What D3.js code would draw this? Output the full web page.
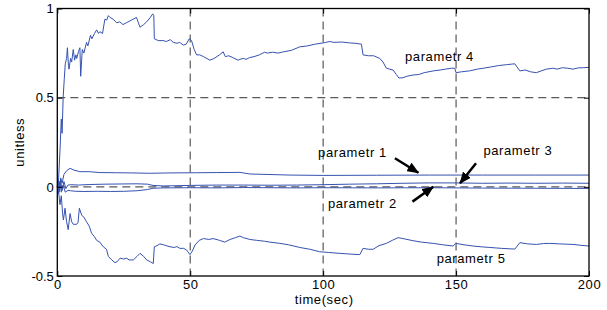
<!DOCTYPE html>
<html><head><meta charset="utf-8">
<script src="https://cdn.jsdelivr.net/npm/d3@7"></script>
<style>
html,body{margin:0;padding:0;background:#fff;}
svg{display:block;font-family:"Liberation Sans",Arial,Helvetica,sans-serif;}
</style></head>
<body><svg id="c" width="607" height="310"></svg>
<script>
// ---- data ----
const xTicks = [0, 50, 100, 150, 200];
const xTickLabels = ["0", "50", "100", "150", "200"];
const yTicks = [-0.5, 0, 0.5, 1];
const yTickLabels = ["-0.5", "0", "0.5", "1"];
const xGrid = [50, 100, 150];
const yGrid = [0, 0.5];

const t4 = [0,0.5,1,1.5,1.8,2.2,2.6,3,3.5,3.8,4.2,4.4,5,5.4,6,6.5,7,7.3,8,8.5,8.8,9.4,10,11,11.5,12.5,13,14,14.8,15.5,16,17,17.9,18.6,19.2,19.8,21,22.3,23.5,24.7,26,27.3,28.5,29.8,30.5,31.1,32.5,33.6,35,35.9,36.3,36.5,38,39.8,41,42.5,43.6,45,46,47.4,48.5,49.6,50.5,51.5,52.4,53.6,55,57.4,59,61,62.4,63.2,64.5,66,68,68.7,70,71,72.4,74,76,78,79,81,83,85,88,91.2,94,97,100,101,102.5,104,107,110,112,114.4,115,117,119,121.3,122.5,123.8,125,126.3,127.5,128.5,130,131.5,133.8,136,138,141.4,144,146,148.3,149.5,150,152,155,158,160.2,163,166,169,172.1,174,176,178,180.2,182,184,186.5,188,190,192,194,196,198,200];
const v4 = [0,0.05,0.2,0.38,0.3,0.5,0.6,0.69,0.72,0.78,0.68,0.66,0.72,0.7,0.77,0.71,0.74,0.72,0.76,0.78,0.62,0.77,0.75,0.81,0.79,0.85,0.83,0.86,0.88,0.86,0.87,0.86,0.94,0.935,0.96,0.95,0.94,0.92,0.925,0.91,0.92,0.93,0.94,0.95,0.92,0.895,0.91,0.925,0.95,0.97,0.96,0.83,0.82,0.82,0.815,0.825,0.81,0.805,0.81,0.795,0.8,0.83,0.82,0.77,0.74,0.74,0.73,0.71,0.72,0.74,0.757,0.73,0.735,0.725,0.71,0.715,0.72,0.715,0.725,0.73,0.74,0.755,0.75,0.755,0.75,0.757,0.765,0.785,0.79,0.8,0.807,0.81,0.815,0.81,0.812,0.807,0.805,0.8,0.74,0.735,0.735,0.72,0.7,0.665,0.66,0.655,0.63,0.61,0.612,0.62,0.627,0.63,0.64,0.65,0.655,0.66,0.665,0.665,0.64,0.645,0.65,0.66,0.665,0.672,0.68,0.685,0.69,0.65,0.655,0.645,0.64,0.65,0.66,0.665,0.66,0.668,0.665,0.66,0.667,0.668,0.67];

const t5 = [0,0.5,1,1.5,2,2.3,2.9,3.5,4.1,4.8,5.4,6,7.3,7.8,8.3,9.2,10,11,12,12.9,14,14.8,16,17.3,18.5,19.2,20.5,21.7,22.5,23.6,25,26.1,27,28.6,30,31.1,32.5,33.6,35,36.1,36.5,37.5,38.6,40,41,42.4,44,45,46.1,47.5,48.6,49.9,50.8,51.8,53.4,55,57,58.6,61,63,65,67,68.7,70,72.4,75,78,80,83.7,87,91.2,95,98.7,102,106.3,110,113.8,115,117,118.8,121,123.8,126,128.2,130,133.8,137,141.4,145,148.9,149.9,153,156.4,160,162.7,167,172.1,174,177,180.2,183,185.2,189,194,197,200];
const v5 = [0,-0.03,-0.1,-0.05,-0.15,-0.186,-0.12,-0.196,-0.24,-0.15,-0.196,-0.21,-0.21,-0.2,-0.12,-0.16,-0.17,-0.196,-0.22,-0.26,-0.28,-0.3,-0.31,-0.336,-0.35,-0.39,-0.41,-0.425,-0.42,-0.4,-0.405,-0.4,-0.41,-0.41,-0.39,-0.373,-0.39,-0.41,-0.42,-0.43,-0.336,-0.33,-0.32,-0.325,-0.33,-0.336,-0.34,-0.335,-0.345,-0.345,-0.354,-0.38,-0.36,-0.326,-0.3,-0.29,-0.295,-0.29,-0.3,-0.31,-0.295,-0.285,-0.276,-0.285,-0.295,-0.3,-0.305,-0.31,-0.317,-0.325,-0.34,-0.35,-0.364,-0.368,-0.373,-0.377,-0.38,-0.345,-0.35,-0.35,-0.33,-0.317,-0.3,-0.285,-0.29,-0.302,-0.31,-0.317,-0.325,-0.332,-0.317,-0.325,-0.332,-0.337,-0.34,-0.345,-0.349,-0.313,-0.32,-0.323,-0.318,-0.317,-0.32,-0.323,-0.328,-0.332];

const t1 = [0,0.4,0.8,1.3,1.8,2.5,3.5,4.8,6,8.5,12,16,22.3,28,34.8,42,52.4,60,68.7,72.4,80,87.5,100,120,140,160,180,200];
const v1 = [0,0.04,-0.02,0.05,0.02,0.07,0.09,0.104,0.095,0.085,0.085,0.08,0.079,0.078,0.076,0.078,0.079,0.08,0.081,0.072,0.069,0.066,0.064,0.065,0.066,0.066,0.066,0.066];

const t2 = [0,0.4,0.9,1.5,2.2,3,4,5,7,10,15,20,25,30,34,36,40,50,60,70,80,90,100,120,140,160,180,200];
const v2 = [0,-0.04,0.03,-0.03,0.01,-0.03,-0.02,-0.022,-0.025,-0.026,-0.025,-0.026,-0.025,-0.022,-0.015,-0.008,-0.006,-0.005,-0.006,-0.004,-0.005,-0.006,-0.005,-0.006,-0.005,-0.007,-0.008,-0.009];

const t3 = [0,0.3,0.7,1.2,1.8,2.5,3.2,4,5,8,12,18,24,30,34,36,40,50,60,70,80,90,100,110,120,130,140,150,160,170,180,190,200];
const v3 = [0,0.03,-0.03,0.04,-0.02,0.03,-0.01,0.01,0.012,0.01,0.013,0.015,0.016,0.017,0.015,0.008,0.005,0.008,0.01,0.01,0.009,0.01,0.012,0.015,0.017,0.02,0.022,0.022,0.02,0.021,0.02,0.021,0.02];

const labelText = ["parametr 1", "parametr 2", "parametr 3", "parametr 4", "parametr 5"];
const labelT = [98.1, 101.8, 160.3, 130.8, 142.7];
const labelV = [0.167, -0.12, 0.178, 0.706, -0.425];

// arrows: tail (t,v) -> tip (t,v)
const arrowT0 = [127.0, 133.6, 157.5];
const arrowV0 = [0.16, -0.083, 0.132];
const arrowT1 = [135.8, 141.4, 151.5];
const arrowV1 = [0.079, 0.0, 0.02];

// ---- drawing ----
const svg = d3.select("#c");
const L = 57.3, R = 589, T = 8.5, B = 276;
const x = d3.scaleLinear().domain([0, 200]).range([L, R]);
const y = d3.scaleLinear().domain([-0.5, 1]).range([B, T]);
const lineColor = "#3652b0";
const ls = "0.6px";

// grid
const g = svg.append("g");
g.selectAll(".gx").data(xGrid).join("line")
  .attr("x1", d => x(d)).attr("x2", d => x(d)).attr("y1", T).attr("y2", B)
  .attr("stroke", "#5a5a5a").attr("stroke-width", 1.2).attr("stroke-dasharray", "8,5");
g.selectAll(".gy").data(yGrid).join("line")
  .attr("x1", L).attr("x2", R).attr("y1", d => y(d)).attr("y2", d => y(d))
  .attr("stroke", "#5a5a5a").attr("stroke-width", 1.2).attr("stroke-dasharray", "8,5");

// series
const series = [[t1, v1], [t2, v2], [t3, v3], [t4, v4], [t5, v5]];
const line = d3.line().x(d => x(d[0])).y(d => y(d[1]));
svg.append("g").selectAll("path").data(series).join("path")
  .attr("d", s => line(s[0].map((t, i) => [t, s[1][i]])))
  .attr("fill", "none").attr("stroke", lineColor).attr("stroke-width", 1)
  .attr("stroke-linejoin", "round");

// axes
const fontSize = 13;
const ax = svg.append("g").attr("transform", `translate(0,${B})`)
  .call(d3.axisBottom(x).tickValues(xTicks).tickFormat((d, i) => xTickLabels[i])
    .tickSizeInner(-5).tickSizeOuter(0).tickPadding(4));
const axT = svg.append("g").attr("transform", `translate(0,${T})`)
  .call(d3.axisTop(x).tickValues(xTicks).tickFormat("").tickSizeInner(-5).tickSizeOuter(0));
const ay = svg.append("g").attr("transform", `translate(${L},0)`)
  .call(d3.axisLeft(y).tickValues(yTicks).tickFormat((d, i) => yTickLabels[i])
    .tickSizeInner(-5).tickSizeOuter(0).tickPadding(3.5));
const ayR = svg.append("g").attr("transform", `translate(${R},0)`)
  .call(d3.axisRight(y).tickValues(yTicks).tickFormat("").tickSizeInner(-5).tickSizeOuter(0));
[ax, axT, ay, ayR].forEach(a => {
  a.select(".domain").remove();
  a.selectAll("line").attr("stroke", "#000").attr("stroke-width", 1);
  a.selectAll("text").attr("font-size", fontSize).attr("font-family", "Liberation Sans, Arial, sans-serif").attr("fill", "#000");
});
ax.selectAll("text").attr("letter-spacing", ls);

// frame
svg.append("rect").attr("x", L).attr("y", T).attr("width", R - L).attr("height", B - T)
  .attr("fill", "none").attr("stroke", "#000").attr("stroke-width", 1.3);

// axis titles
svg.append("text").attr("x", (L + R) / 2 + 1).attr("y", 304).attr("text-anchor", "middle")
  .attr("font-size", fontSize).attr("letter-spacing", ls).text("time(sec)");
svg.append("text").attr("transform", `translate(23.5,${(T + B) / 2}) rotate(-90)`)
  .attr("text-anchor", "middle").attr("font-size", fontSize).attr("letter-spacing", ls).text("unitless");

// labels
svg.append("g").selectAll("text").data(labelText).join("text")
  .attr("x", (d, i) => x(labelT[i])).attr("y", (d, i) => y(labelV[i]))
  .attr("font-size", fontSize).attr("letter-spacing", ls).attr("fill", "#000").text(d => d);

// arrows
svg.append("defs").append("marker").attr("id", "ah")
  .attr("markerUnits", "userSpaceOnUse").attr("markerWidth", 12).attr("markerHeight", 10)
  .attr("refX", 11).attr("refY", 5).attr("orient", "auto")
  .append("path").attr("d", "M0,0 L12,5 L0,10 Z").attr("fill", "#000");
svg.append("g").selectAll("line").data(arrowT0).join("line")
  .attr("x1", (d, i) => x(arrowT0[i])).attr("y1", (d, i) => y(arrowV0[i]))
  .attr("x2", (d, i) => x(arrowT1[i])).attr("y2", (d, i) => y(arrowV1[i]))
  .attr("stroke", "#000").attr("stroke-width", 2.5).attr("marker-end", "url(#ah)");
</script></body></html>
